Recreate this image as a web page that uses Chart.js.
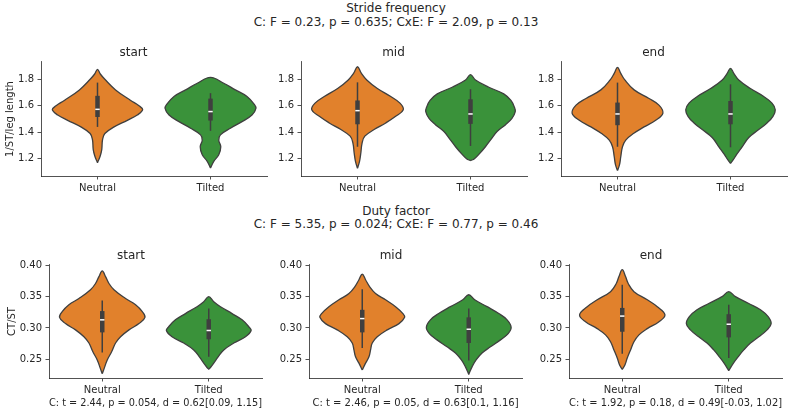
<!DOCTYPE html>
<html>
<head>
<meta charset="utf-8">
<script src="https://cdn.jsdelivr.net/npm/chart.js@4.4.0/dist/chart.umd.min.js"></script>
<style>
  html, body { margin: 0; padding: 0; background: #fff; }
  body { width: 792px; height: 414px; position: relative; overflow: hidden;
         font-family: 'DejaVu Sans', sans-serif; color: #262626; }
  .sup { position: absolute; left: 0; width: 792px; text-align: center;
         font-size: 12px; line-height: 13.5px; white-space: pre; }
  canvas { position: absolute; }
</style>
</head>
<body>
<div class="sup" id="supTop" style="top:2.2px"></div>
<div class="sup" id="supBottom" style="top:204.7px"></div>

<script>
// categories / facets
const groups = ['Neutral', 'Tilted'];
const phases = ['start', 'mid', 'end'];

// titles
const sfTitle = ['Stride frequency', 'C: F = 0.23, p = 0.635; CxE: F = 2.09, p = 0.13'];
const dfTitle = ['Duty factor', 'C: F = 5.35, p = 0.024; CxE: F = 0.77, p = 0.46'];
const sfLabel = '1/ST/leg length';
const dfLabel = 'CT/ST';
const dfTests = [
  'C: t = 2.44, p = 0.054, d = 0.62[0.09, 1.15]',
  'C: t = 2.46, p = 0.05, d = 0.63[0.1, 1.16]',
  'C: t = 1.92, p = 0.18, d = 0.49[-0.03, 1.02]'
];

// tick labels
const sfTicks = [1.2, 1.4, 1.6, 1.8];
const sfTickLabels = ['1.2', '1.4', '1.6', '1.8'];
const dfTicks = [0.25, 0.30, 0.35, 0.40];
const dfTickLabels = ['0.25', '0.30', '0.35', '0.40'];

// violin density profiles: [value, half width in category units]
const sfStartNeutral = [[1.17,0],[1.22,0.024],[1.27,0.038],[1.34,0.044],[1.39,0.065],[1.44,0.147],[1.49,0.264],[1.53,0.352],[1.57,0.40],[1.60,0.367],[1.64,0.294],[1.72,0.16],[1.80,0.065],[1.84,0.025],[1.875,0]];
const sfStartTilted  = [[1.13,0],[1.18,0.029],[1.23,0.073],[1.29,0.091],[1.34,0.073],[1.38,0.088],[1.43,0.176],[1.48,0.279],[1.53,0.367],[1.58,0.402],[1.61,0.388],[1.67,0.323],[1.72,0.22],[1.77,0.117],[1.815,0]];
const sfMidNeutral   = [[1.128,0],[1.18,0.018],[1.24,0.029],[1.32,0.041],[1.37,0.065],[1.42,0.147],[1.47,0.25],[1.52,0.338],[1.57,0.405],[1.62,0.376],[1.67,0.294],[1.73,0.176],[1.795,0.082],[1.845,0.035],[1.895,0]];
const sfMidTilted    = [[1.185,0],[1.20,0.035],[1.24,0.082],[1.29,0.132],[1.34,0.176],[1.405,0.235],[1.455,0.308],[1.505,0.367],[1.555,0.396],[1.59,0.388],[1.64,0.358],[1.69,0.294],[1.74,0.162],[1.795,0.044],[1.835,0]];
const sfEndNeutral   = [[1.11,0],[1.155,0.018],[1.215,0.029],[1.29,0.044],[1.34,0.073],[1.39,0.141],[1.44,0.235],[1.49,0.338],[1.545,0.402],[1.605,0.367],[1.655,0.279],[1.72,0.147],[1.795,0.065],[1.845,0.029],[1.89,0]];
const sfEndTilted    = [[1.165,0],[1.19,0.023],[1.23,0.053],[1.29,0.103],[1.36,0.162],[1.42,0.25],[1.47,0.323],[1.52,0.376],[1.57,0.396],[1.62,0.367],[1.67,0.294],[1.73,0.176],[1.795,0.073],[1.845,0.029],[1.883,0]];

const dfStartNeutral = [[0.227,0],[0.236,0.019],[0.249,0.047],[0.262,0.088],[0.276,0.125],[0.286,0.172],[0.297,0.251],[0.307,0.345],[0.317,0.401],[0.326,0.376],[0.337,0.313],[0.347,0.219],[0.361,0.11],[0.371,0.063],[0.382,0.031],[0.391,0]];
const dfStartTilted  = [[0.234,0],[0.237,0.016],[0.244,0.047],[0.254,0.088],[0.265,0.141],[0.276,0.235],[0.286,0.345],[0.296,0.398],[0.302,0.376],[0.313,0.313],[0.323,0.219],[0.334,0.11],[0.342,0.047],[0.350,0]];
const dfMidNeutral   = [[0.233,0],[0.244,0.031],[0.254,0.063],[0.265,0.078],[0.276,0.094],[0.286,0.141],[0.297,0.235],[0.307,0.345],[0.317,0.398],[0.323,0.382],[0.334,0.313],[0.345,0.219],[0.355,0.125],[0.366,0.069],[0.377,0.031],[0.386,0]];
const dfMidTilted    = [[0.226,0],[0.238,0.031],[0.249,0.069],[0.260,0.125],[0.270,0.204],[0.281,0.298],[0.291,0.37],[0.301,0.398],[0.313,0.36],[0.323,0.282],[0.334,0.172],[0.345,0.056],[0.353,0]];
const dfEndNeutral   = [[0.234,0],[0.241,0.025],[0.252,0.047],[0.265,0.078],[0.278,0.11],[0.289,0.157],[0.299,0.235],[0.310,0.345],[0.321,0.401],[0.334,0.329],[0.345,0.235],[0.358,0.11],[0.371,0.056],[0.382,0.031],[0.393,0]];
const dfEndTilted    = [[0.232,0],[0.244,0.044],[0.254,0.088],[0.265,0.141],[0.276,0.204],[0.286,0.282],[0.297,0.36],[0.307,0.398],[0.318,0.37],[0.329,0.298],[0.339,0.188],[0.350,0.063],[0.358,0]];

// inner boxes per phase: [whisker low, q1, median, q3, whisker high]
const sfBoxNeutral = [[1.44,1.515,1.573,1.675,1.775],[1.29,1.46,1.563,1.64,1.777],[1.29,1.453,1.538,1.624,1.775]];
const sfBoxTilted  = [[1.41,1.488,1.556,1.654,1.695],[1.296,1.463,1.538,1.649,1.725],[1.286,1.46,1.538,1.636,1.762]];
const dfBoxNeutral = [[0.261,0.293,0.313,0.327,0.344],[0.268,0.293,0.315,0.329,0.362],[0.259,0.294,0.319,0.332,0.369]];
const dfBoxTilted  = [[0.254,0.282,0.296,0.314,0.331],[0.248,0.276,0.298,0.317,0.331],[0.252,0.285,0.306,0.322,0.337]];

const colors = ['#e1812c', '#3a923a'];
const gray = '#3f3f3f';
const ink = '#262626';

Chart.defaults.font.family = "'DejaVu Sans', sans-serif";
Chart.defaults.font.size = 10;
Chart.defaults.color = ink;

document.getElementById('supTop').textContent = sfTitle.join('\n');
document.getElementById('supBottom').textContent = dfTitle.join('\n');

function outline(profile, c) {
  const right = profile.map(([v, w]) => ({ x: c + w, y: v }));
  const left = profile.slice(0, -1).reverse().map(([v, w]) => ({ x: c - w, y: v }));
  return right.concat(left);
}

function violinSets(profile, box, c, color) {
  return [
    { data: outline(profile, c), fill: 'shape', backgroundColor: color, borderColor: gray,
      borderWidth: 1.3, pointRadius: 0, tension: 0.4, order: 4 },
    { data: [{ x: c, y: box[0] }, { x: c, y: box[4] }], borderColor: gray, borderWidth: 1.5,
      pointRadius: 0, tension: 0, fill: false, order: 3 },
    { data: [{ x: c, y: box[1] }, { x: c, y: box[3] }], borderColor: gray, borderWidth: 4.5,
      borderCapStyle: 'butt', pointRadius: 0, tension: 0, fill: false, order: 2 },
    { data: [{ x: c, y: box[2] }], showLine: false, pointStyle: 'line', pointRadius: 2.2,
      pointBorderColor: '#ffffff', pointBorderWidth: 1.5, order: 1 }
  ];
}

const axisLine = { display: true, color: ink, width: 0.8 };
const tickMarks = { display: true, drawOnChartArea: false, drawTicks: true, tickLength: 3.5,
                    tickWidth: 0.8, tickColor: ink };

function makePanel(p) {
  const canvas = document.createElement('canvas');
  const cw = 2 * p.yw + p.w;
  const ch = 16 + p.h + p.xh;
  canvas.width = cw; canvas.height = ch;
  canvas.style.left = (p.left - p.yw) + 'px';
  canvas.style.top = (p.top - 16) + 'px';
  canvas.style.width = cw + 'px';
  canvas.style.height = ch + 'px';
  document.body.appendChild(canvas);

  const datasets = violinSets(p.violins[0], p.boxes[0], 0, colors[0])
    .concat(violinSets(p.violins[1], p.boxes[1], 1, colors[1]));

  new Chart(canvas, {
    type: 'line',
    data: { datasets },
    options: {
      responsive: false,
      animation: false,
      events: [],
      layout: { padding: { left: 0, right: p.yw, top: 0, bottom: 0 } },
      plugins: {
        legend: { display: false },
        tooltip: { enabled: false },
        title: { display: true, text: p.title, color: ink, font: { size: 12, weight: 'normal' },
                 padding: { top: 0, bottom: 1.6 } }
      },
      scales: {
        x: {
          type: 'linear', min: -0.5, max: 1.5,
          afterBuildTicks: s => { s.ticks = groups.map((g, i) => ({ value: i })); },
          ticks: { callback: v => groups[v], padding: 2.5, autoSkip: false, maxRotation: 0, color: ink },
          grid: tickMarks, border: axisLine,
          title: p.footer ? { display: true, text: p.footer, color: ink, font: { size: 10 },
                              padding: { top: 0, bottom: 0 } } : { display: false },
          afterFit: s => { s.height = p.xh; }
        },
        y: {
          type: 'linear', min: p.ymin, max: p.ymax,
          afterBuildTicks: s => { s.ticks = p.ticks.map(v => ({ value: v })); },
          ticks: { callback: (v, i) => p.tickLabels[i], padding: 3.5, autoSkip: false, color: ink },
          grid: tickMarks, border: axisLine,
          title: p.ylabel ? { display: true, text: p.ylabel, color: ink, font: { size: 10 },
                              padding: { top: p.ytitlePad, bottom: 0 } } : { display: false },
          afterFit: s => { s.width = p.yw; }
        }
      }
    }
  });
}

const sfViolins = [[sfStartNeutral, sfStartTilted], [sfMidNeutral, sfMidTilted], [sfEndNeutral, sfEndTilted]];
const dfViolins = [[dfStartNeutral, dfStartTilted], [dfMidNeutral, dfMidTilted], [dfEndNeutral, dfEndTilted]];
const topLefts = [41, 301, 561];
const bottomLefts = [49, 309, 569];

phases.forEach((phase, i) => {
  makePanel({
    left: topLefts[i], top: 62, w: 226, h: 114, yw: 41, xh: 20,
    ymin: 1.069, ymax: 1.9308, ticks: sfTicks, tickLabels: sfTickLabels,
    title: phase, ylabel: i === 0 ? sfLabel : null, ytitlePad: 4.3, footer: null,
    violins: sfViolins[i], boxes: [sfBoxNeutral[i], sfBoxTilted[i]]
  });
  makePanel({
    left: bottomLefts[i], top: 265, w: 213, h: 113, yw: 49, xh: 31,
    ymin: 0.2202, ymax: 0.4005, ticks: dfTicks, tickLabels: dfTickLabels,
    title: phase, ylabel: i === 0 ? dfLabel : null, ytitlePad: 6, footer: dfTests[i],
    violins: dfViolins[i], boxes: [dfBoxNeutral[i], dfBoxTilted[i]]
  });
});
</script>
</body>
</html>
